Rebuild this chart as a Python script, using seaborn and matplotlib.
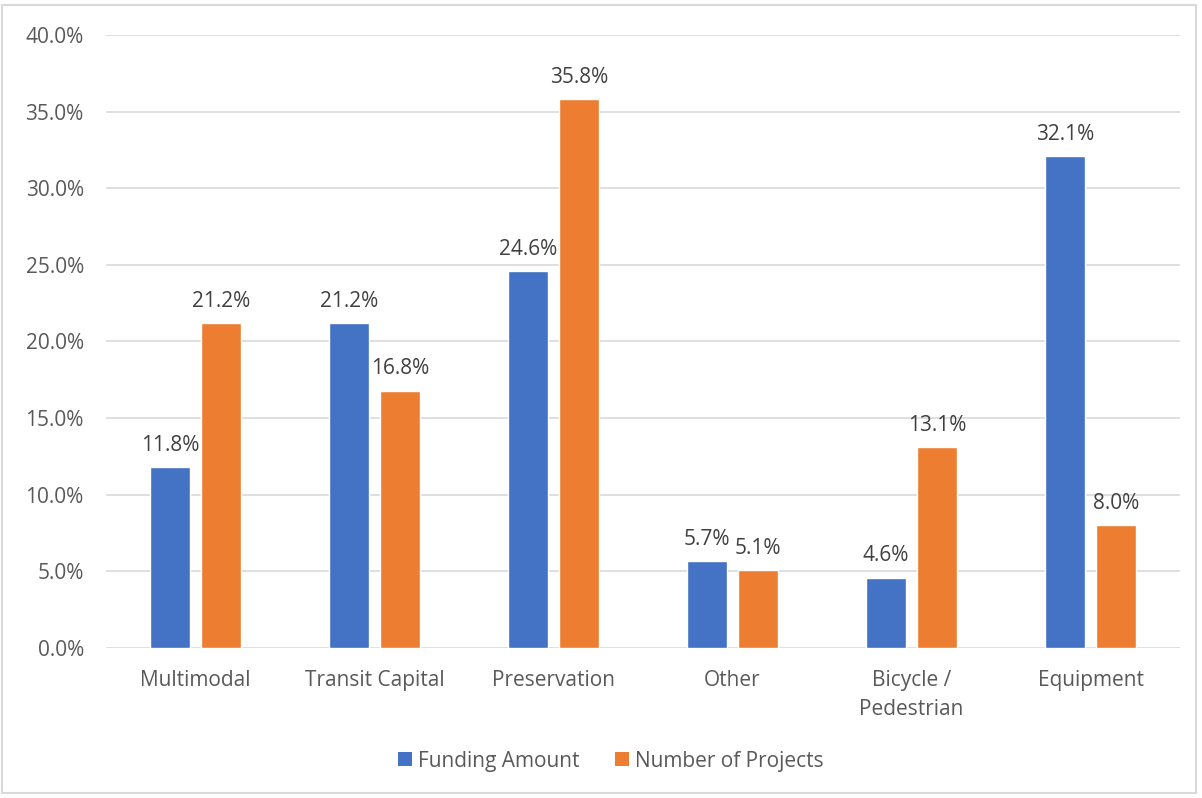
import matplotlib
matplotlib.use("Agg")
import matplotlib.pyplot as plt
import seaborn as sns
import pandas as pd
from matplotlib.patches import Rectangle, Patch

categories = ["Multimodal", "Transit Capital", "Preservation", "Other", "Bicycle /\nPedestrian", "Equipment"]
funding_amount = [11.8, 21.2, 24.6, 5.7, 4.6, 32.1]
number_of_projects = [21.2, 16.8, 35.8, 5.1, 13.1, 8.0]
series_names = ["Funding Amount", "Number of Projects"]
colors = ["#4472C4", "#ED7D31"]
yticks = [0, 5, 10, 15, 20, 25, 30, 35, 40]

df = pd.DataFrame({
    "category": categories * 2,
    "series": [series_names[0]] * len(categories) + [series_names[1]] * len(categories),
    "value": funding_amount + number_of_projects,
})

sns.set_theme(style="white")
plt.rcParams["font.family"] = ["Open Sans", "DejaVu Sans"]
txt = "#595959"
fs = 15

W, H = 1202, 798
fig = plt.figure(figsize=(W / 100, H / 100), dpi=100)
ax = fig.add_axes([106 / W, 150 / H, (1180 - 106) / W, (648 - 35) / H])

sns.barplot(data=df, x="category", y="value", hue="series", order=categories,
            hue_order=series_names, palette=colors, width=0.57, gap=0.216,
            saturation=1, ax=ax, legend=False)

for c in ax.containers:
    ax.bar_label(c, labels=[f"{v:.1f}%" for v in c.datavalues], padding=8,
                 fontsize=fs, color="#404040")

ax.set_ylim(0, 40)
ax.set_xlim(-0.5, len(categories) - 0.5)
ax.set_yticks(yticks)
ax.set_yticklabels([f"{v:.1f}%" for v in yticks], fontsize=fs, color=txt)
ax.tick_params(axis="y", length=0, pad=16)
ax.tick_params(axis="x", length=0, pad=16, labelsize=fs, labelcolor=txt)
for lab in ax.get_xticklabels():
    lab.set_linespacing(1.5)
ax.set_xlabel("")
ax.set_ylabel("")
ax.grid(axis="y", color="#d9d9d9", linewidth=1.2)
ax.set_axisbelow(True)
for s in ax.spines.values():
    s.set_visible(False)

handles = [Patch(facecolor=col, edgecolor="none") for col in colors]
fig.legend(handles, series_names, loc="center", bbox_to_anchor=(611 / W, 1 - 761 / H),
           ncol=2, frameon=False, fontsize=fs, labelcolor=txt,
           handlelength=0.65, handleheight=0.65, handletextpad=0.3, columnspacing=1.7)

fig.patches.append(Rectangle((2 / W, 5 / H), (1196 - 2) / W, (793 - 5) / H,
                             transform=fig.transFigure, fill=False,
                             edgecolor="#d9d9d9", linewidth=1.5))

fig.savefig("out.png", dpi=100)
